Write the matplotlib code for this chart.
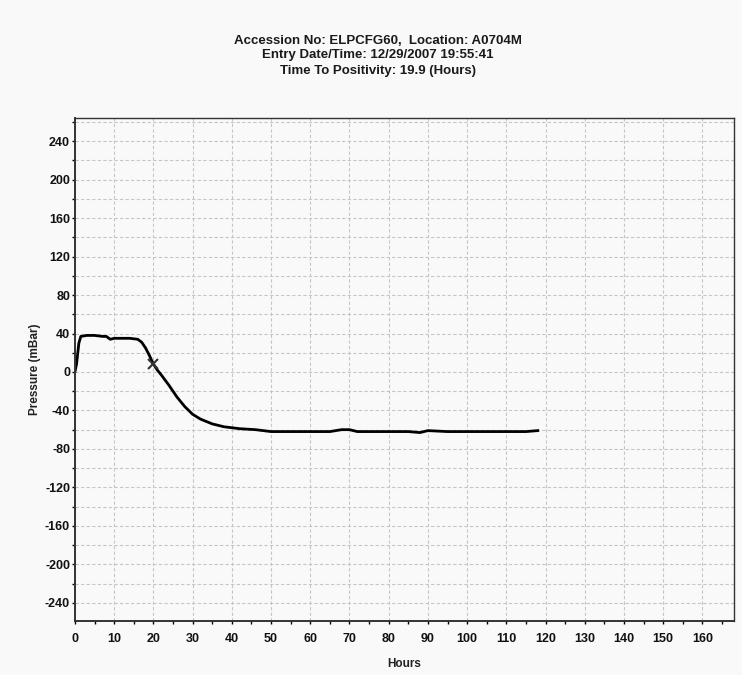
import numpy as np
import matplotlib
matplotlib.use('Agg')
import matplotlib.pyplot as plt
from matplotlib.ticker import MultipleLocator

plt.rcParams['axes.unicode_minus'] = False

# Lineas de titulo
titulo = ['Accession No: ELPCFG60,  Location: A0704M',
          'Entry Date/Time: 12/29/2007 19:55:41',
          'Time To Positivity: 19.9 (Hours)']

# Curva de presion
horas = [0, 0.4, 1.0, 1.5, 3, 5, 7, 8, 9, 10, 12, 14, 16, 17, 18, 19, 19.9,
         21, 22, 24, 26, 28, 30, 32, 35, 38, 42, 46, 50, 55, 60, 65, 68, 70,
         72, 75, 80, 85, 88, 90, 95, 100, 105, 110, 115, 118]
presion = [0, 8, 30, 37, 38, 38, 37, 37, 34, 35, 35, 35, 34, 31, 25, 17, 9,
           2, -3, -14, -26, -36, -44, -49, -54, -57, -59, -60, -62, -62, -62,
           -62, -60, -60, -62, -62, -62, -62, -63, -61, -62, -62, -62, -62,
           -62, -61]

# Punto de positividad
ttp_x = 19.9
ttp_y = 8

xticks = np.arange(0, 161, 10)
yticks = np.arange(-240, 241, 40)

fondo = '#f9f9f9'
fig = plt.figure(figsize=(7.42, 6.75), dpi=100, facecolor=fondo)
ax = fig.add_axes([0.101, 0.080, 0.888, 0.745], facecolor=fondo)

ax.plot(horas, presion, color='black', linewidth=2.0, solid_joinstyle='round')
ax.plot([ttp_x], [ttp_y], marker='x', color='#333333', markersize=7,
        markeredgewidth=1.5)

ax.set_xlim(0, 168)
ax.set_ylim(-259, 264)
ax.set_xticks(xticks)
ax.set_yticks(yticks)
ax.xaxis.set_minor_locator(MultipleLocator(5))
ax.yaxis.set_minor_locator(MultipleLocator(20))

ax.xaxis.grid(True, which='major', color='#c6c6c6', linestyle=(0, (3, 2)),
              linewidth=0.8)
ax.yaxis.grid(True, which='both', color='#c6c6c6', linestyle=(0, (3, 2)),
              linewidth=0.8)
ax.set_axisbelow(True)

for s in ax.spines.values():
    s.set_color('#333333')
    s.set_linewidth(1.0)
ax.spines['left'].set_linewidth(1.4)
ax.spines['bottom'].set_linewidth(1.4)

fuente = 'Liberation Sans'
ax.tick_params(which='major', direction='out', length=2, width=1,
               labelsize=9)
ax.tick_params(axis='y', which='major', pad=1.5)
ax.tick_params(axis='x', which='major', pad=7)
ax.tick_params(which='minor', direction='out', length=2, width=1)
for lab in ax.get_xticklabels() + ax.get_yticklabels():
    lab.set_fontfamily(fuente)
    lab.set_fontweight('bold')
    lab.set_color('#111111')

ax.set_xlabel('Hours', fontsize=8.5, family=fuente, fontweight='bold',
              color='#222222', labelpad=9)
ax.set_ylabel('Pressure (mBar)', fontsize=8.5, family=fuente,
              fontweight='bold', color='#222222', labelpad=3)

ys = [0.940, 0.918, 0.895]
for t, y in zip(titulo, ys):
    fig.text(0.509, y, t, ha='center', va='center', fontsize=9.5,
             family=fuente, fontweight='bold', color='#1a1a1a')

fig.savefig('out.png', dpi=100, facecolor=fondo)
